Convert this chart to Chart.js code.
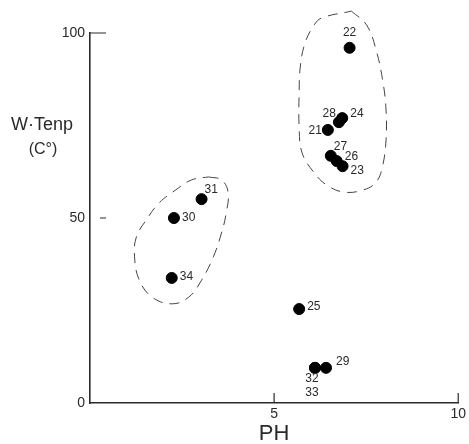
<!DOCTYPE html>
<html>
<head>
<meta charset="utf-8">
<script src="https://cdn.jsdelivr.net/npm/chart.js@4"></script>
<style>
  body { margin: 0; background: #fff; }
  canvas { display: block; }
</style>
</head>
<body>
<canvas id="chart" width="469" height="444"></canvas>
<script>
// sample numbers and their readings
const sampleIds = ['22', '24', '28', '21', '27', '26', '23', '31', '30', '34', '25', '32', '33', '29'];
const phValues = [7.05, 6.85, 6.76, 6.46, 6.54, 6.70, 6.86, 3.03, 2.28, 2.22, 5.68, 6.11, 6.11, 6.41];
const tempValues = [96, 77, 75.9, 73.8, 66.8, 65.4, 64, 55.1, 50, 33.8, 25.4, 9.5, 9.5, 9.5];

// dashed group outlines (pH, temp)
const groupA_ph = [7.10, 7.51, 7.77, 7.96, 8.04, 8.04, 7.94, 7.77, 7.43, 6.89, 6.43, 6.09, 5.76, 5.68, 5.68, 5.71, 5.84, 6.09, 6.30, 7.10];
const groupA_temp = [105.9, 102.2, 95.4, 86.5, 79.2, 71.1, 63.8, 59.7, 57.6, 57.0, 58.9, 62.2, 67.6, 74.6, 83.8, 90.8, 97.3, 102.2, 104.1, 105.9];
const groupB_ph = [3.22, 3.57, 3.75, 3.70, 3.57, 3.35, 3.03, 2.68, 2.23, 1.69, 1.34, 1.21, 1.26, 1.53, 1.88, 2.33, 2.76, 3.22];
const groupB_temp = [61.1, 60.3, 57.0, 51.4, 45.9, 39.5, 33.2, 28.6, 26.8, 28.6, 33.2, 39.5, 44.9, 49.5, 54.1, 57.6, 60.3, 61.1];

const xTicks = [0, 5, 10];
const yTicks = [0, 50, 100];

// label placement relative to each point (px): dx, dy, align
const labelPos = [
  [0, -15, 'center'], [8, -4, 'left'], [-3, -8, 'right'], [-6, 1, 'right'],
  [3, -9, 'left'], [8, -4, 'left'], [8, 4, 'left'], [3, -9, 'left'],
  [8, 0, 'left'], [8, -1, 'left'], [8, -2, 'left'], [-3, 11, 'center'],
  [-3, 25, 'center'], [10, -6, 'left']
];

const ink = '#2a2a2a';
const font = '"Liberation Sans", "DejaVu Sans", sans-serif';

function toPts(xs, ys) { return xs.map((x, i) => ({ x: x, y: ys[i] })); }

// sample numbers beside the dots
const pointLabels = {
  id: 'pointLabels',
  afterDatasetsDraw(chart) {
    const ctx = chart.ctx;
    const meta = chart.getDatasetMeta(0);
    ctx.save();
    ctx.fillStyle = ink;
    ctx.font = '12px ' + font;
    ctx.textBaseline = 'middle';
    meta.data.forEach((pt, i) => {
      const p = labelPos[i];
      ctx.textAlign = p[2];
      ctx.fillText(sampleIds[i], pt.x + p[0], pt.y + p[1]);
    });
    ctx.restore();
  }
};

// inward tick marks + the horizontal y caption
const axisExtras = {
  id: 'axisExtras',
  afterDraw(chart) {
    const ctx = chart.ctx;
    const xs = chart.scales.x, ys = chart.scales.y;
    ctx.save();
    ctx.strokeStyle = ink;
    ctx.lineWidth = 1.2;
    ctx.beginPath();
    [5, 10].forEach(v => {
      const px = xs.getPixelForValue(v);
      ctx.moveTo(px, ys.bottom);
      ctx.lineTo(px, ys.bottom - 10);
    });
    const top = ys.getPixelForValue(100);
    ctx.moveTo(xs.left, top);
    ctx.lineTo(xs.left + 16, top);
    const mid = ys.getPixelForValue(50);
    ctx.moveTo(xs.left + 10, mid);
    ctx.lineTo(xs.left + 16, mid);
    ctx.stroke();
    ctx.fillStyle = ink;
    ctx.textAlign = 'center';
    ctx.textBaseline = 'alphabetic';
    ctx.font = '18px ' + font;
    ctx.fillText('W\u00b7Tenp', 42, 130);
    ctx.font = '16px ' + font;
    ctx.fillText('(C\u00b0)', 43, 154);
    ctx.restore();
  }
};

const outline = {
  showLine: true,
  borderColor: '#444',
  borderWidth: 1,
  borderDash: [10, 7],
  tension: 0.4,
  pointRadius: 0,
  clip: false
};

new Chart(document.getElementById('chart'), {
  type: 'scatter',
  data: {
    datasets: [
      {
        data: toPts(phValues, tempValues),
        backgroundColor: '#000',
        borderColor: '#000',
        pointRadius: 5.5,
        pointHoverRadius: 5.5
      },
      Object.assign({ data: toPts(groupA_ph, groupA_temp) }, outline),
      Object.assign({ data: toPts(groupB_ph, groupB_temp) }, outline)
    ]
  },
  options: {
    responsive: false,
    animation: false,
    events: [],
    layout: { padding: { top: 33, right: 0, left: 0, bottom: 0 } },
    plugins: { legend: { display: false }, tooltip: { enabled: false } },
    scales: {
      x: {
        min: 0, max: 10,
        afterFit(scale) { scale.height = 41; },
        afterBuildTicks(scale) { scale.ticks = xTicks.map(v => ({ value: v })); },
        grid: { display: true, drawOnChartArea: false, drawTicks: false },
        border: { display: true, color: ink, width: 1.6 },
        ticks: {
          color: ink, padding: 3,
          font: { size: 14, family: font },
          callback: v => v === 0 ? '' : String(v)
        },
        title: { display: true, text: 'PH', color: ink, font: { size: 22, family: font }, padding: { top: 0, bottom: -3 } }
      },
      y: {
        min: 0, max: 100,
        afterFit(scale) { scale.width = 90; },
        afterBuildTicks(scale) { scale.ticks = yTicks.map(v => ({ value: v })); },
        grid: { display: true, drawOnChartArea: false, drawTicks: false },
        border: { display: true, color: ink, width: 1.6 },
        ticks: { color: ink, padding: 5, font: { size: 14, family: font } }
      }
    }
  },
  plugins: [pointLabels, axisExtras]
});
</script>
</body>
</html>
